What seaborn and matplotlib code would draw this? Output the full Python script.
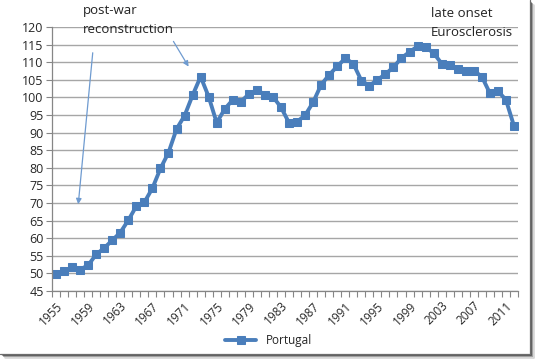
import matplotlib
matplotlib.use("Agg")
import matplotlib.pyplot as plt
from matplotlib.lines import Line2D
import seaborn as sns
import pandas as pd
import numpy as np

# values
years = list(range(1955, 2013))
portugal = [49.8, 50.7, 51.7, 51.1, 52.3, 55.4, 57.2, 59.4, 61.6, 65.1,
            69.1, 70.2, 74.2, 79.8, 84.3, 91.0, 94.8, 100.6, 105.9, 100.2,
            92.8, 96.7, 99.3, 98.8, 100.9, 102.1, 100.8, 100.2, 97.2, 92.8,
            93.1, 94.9, 98.6, 103.6, 106.4, 108.8, 111.1, 109.6, 104.8, 103.3,
            105.0, 106.6, 108.6, 111.2, 112.9, 114.5, 114.3, 112.6, 109.6, 109.3,
            108.0, 107.4, 107.6, 105.9, 101.2, 101.8, 99.3, 91.9]
yticks = list(range(45, 121, 5))

df = pd.DataFrame({"pos": np.arange(len(years)), "year": years, "value": portugal})

sns.set_style("white")
plt.rcParams["font.family"] = ["Open Sans", "DejaVu Sans"]

blue = "#4a7ebb"
fig = plt.figure(figsize=(5.37, 3.6), dpi=100)
ax = fig.add_axes([0.0968, 0.1917, 0.8678, 0.7333])

sns.lineplot(data=df, x="pos", y="value", ax=ax, color=blue, lw=2.8,
             marker="s", markersize=6, markeredgecolor=blue, label="Portugal")

ax.set_xlim(-0.5, len(years) - 0.5)
ax.set_ylim(45, 120)
ax.set_yticks(yticks)
ax.yaxis.grid(True, color="#a6a6a6", lw=1)
ax.set_axisbelow(True)
ax.set_xlabel("")
ax.set_ylabel("")

lab_pos = list(range(0, len(years), 4))
ax.set_xticks(lab_pos)
ax.set_xticklabels([str(years[i]) for i in lab_pos], rotation=45, ha="right",
                   rotation_mode="anchor", fontsize=8.5)
ax.set_xticks(np.arange(-0.5, len(years), 1), minor=True)
ax.tick_params(axis="x", which="major", length=0, pad=6)
ax.tick_params(axis="x", which="minor", length=4, color="#868686", width=0.8,
               direction="out", bottom=True)
ax.tick_params(axis="y", length=4, color="#868686", width=0.8, labelsize=9,
               left=True, pad=2)
for s in ["top", "right"]:
    ax.spines[s].set_visible(False)
for s in ["left", "bottom"]:
    ax.spines[s].set_color("#868686")
    ax.spines[s].set_linewidth(0.9)

ax.legend(loc="upper center", bbox_to_anchor=(0.5, 0.085), bbox_transform=fig.transFigure,
          frameon=False, fontsize=8.5, handlelength=2.6, borderaxespad=0)

# annotations
fig.text(83 / 537, 1 - 20 / 360, "post-war\nreconstruction", fontsize=9.5,
         va="center", ha="left", linespacing=1.6, color="#222222")
fig.text(431 / 537, 1 - 23 / 360, "late onset\nEurosclerosis", fontsize=9.5,
         va="center", ha="left", linespacing=1.6, color="#222222")
arr = dict(arrowstyle="-|>", color="#6f9bd0", lw=0.9, mutation_scale=8)
ax.annotate("", xy=(78 / 537, 1 - 207 / 360), xytext=(93 / 537, 1 - 50 / 360),
            xycoords="figure fraction", textcoords="figure fraction", arrowprops=arr)
ax.annotate("", xy=(190 / 537, 1 - 69 / 360), xytext=(172 / 537, 1 - 39 / 360),
            xycoords="figure fraction", textcoords="figure fraction", arrowprops=arr)

# right and bottom edge of the chart frame, with a soft shadow
def fx(px):
    return px / 537

def fy(px):
    return 1 - px / 360

for off, col, w in [(3, "#d9d9d9", 2.0), (2, "#a0a0a0", 1.5), (1, "#555555", 1.2)]:
    fig.add_artist(Line2D([fx(530 + off), fx(530 + off)], [fy(2 + off), fy(354 + off)],
                          color=col, lw=w, transform=fig.transFigure))
    fig.add_artist(Line2D([fx(2 + off), fx(530 + off)], [fy(354 + off), fy(354 + off)],
                          color=col, lw=w, transform=fig.transFigure))
fig.add_artist(Line2D([fx(530), fx(530), fx(0)], [fy(0), fy(354), fy(354)],
                      color="#6d6d6d", lw=0.9, transform=fig.transFigure))

fig.savefig("out.png", dpi=100)
